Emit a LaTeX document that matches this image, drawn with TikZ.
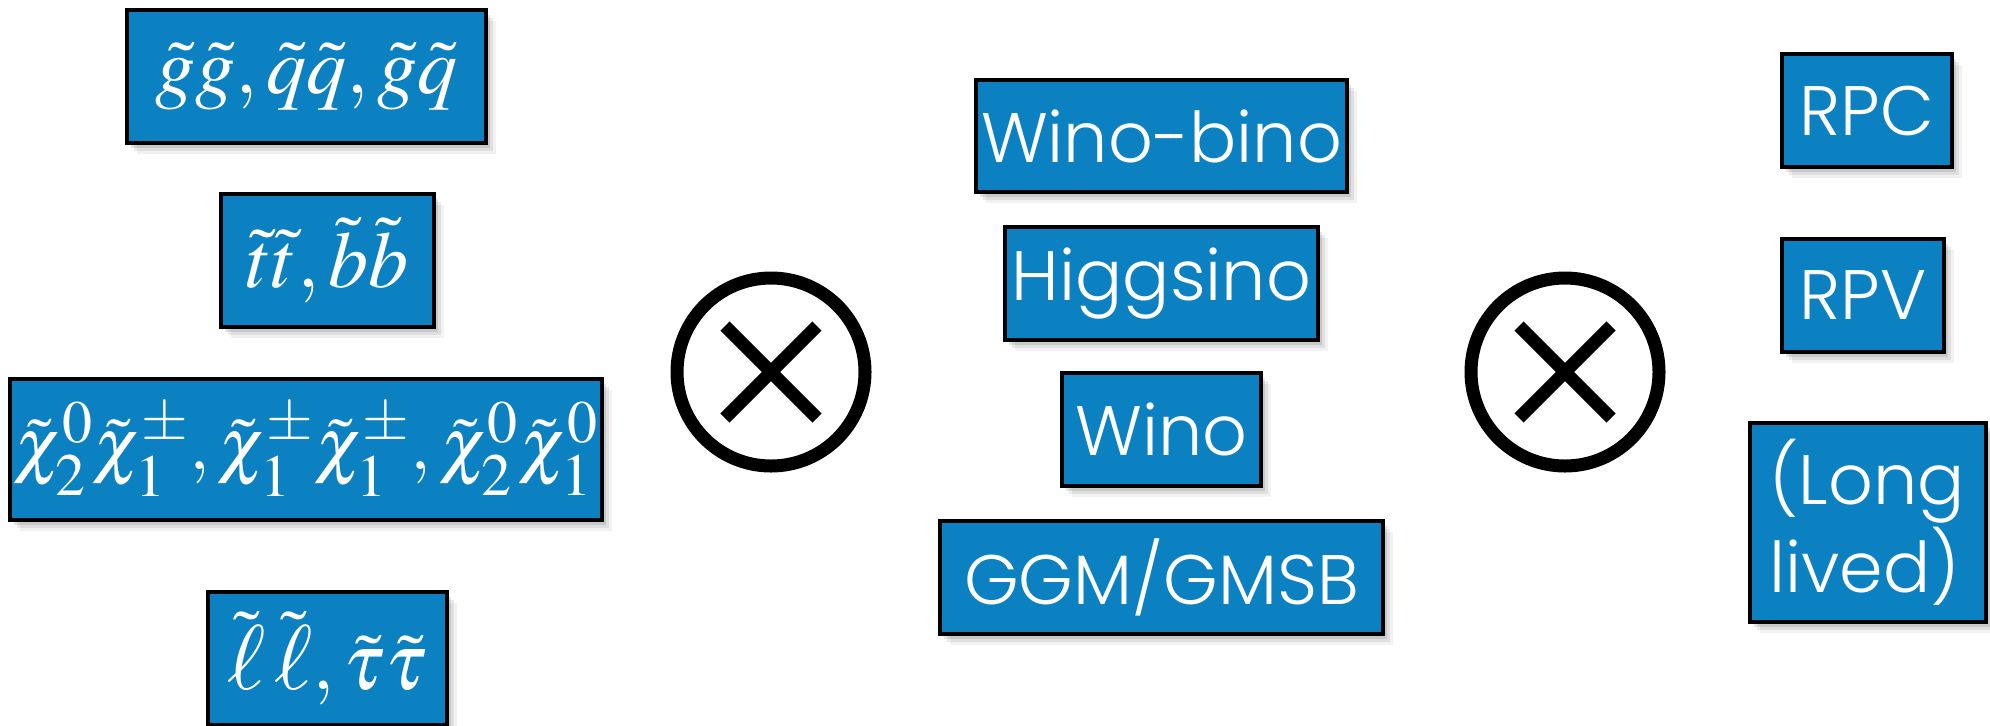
\documentclass[tikz,border=0pt]{standalone}
\usepackage{mathptmx}
\usepackage{graphicx}
\usepackage[no-math]{fontspec}
\newfontfamily\gothic{Poppins Light}
\usetikzlibrary{shadows}
\definecolor{boxblue}{HTML}{0C81C1}
\DeclareMathSizes{40}{40}{31}{25}
\DeclareMathSizes{37}{37}{30}{23}
\newcommand{\bigell}{\tilde{\mbox{\scalebox{1.15}{$\ell$}}}}
\tikzset{
  softshadow/.style={
    drop shadow={shadow xshift=2pt, shadow yshift=-2.5pt, opacity=0.10, fill=black},
    drop shadow={shadow xshift=3.5pt, shadow yshift=-4pt, opacity=0.08, fill=black},
    drop shadow={shadow xshift=5pt, shadow yshift=-5.5pt, opacity=0.05, fill=black}},
  box/.style={draw=black, line width=2pt, fill=boxblue, text=white, inner sep=0pt, softshadow},
  sans/.style={font=\gothic\fontsize{35}{44}\selectfont},
  mth/.style={font=\fontsize{40}{48}\selectfont},
  mthsmall/.style={font=\fontsize{37}{44}\selectfont},
  ring/.style={circle, draw=black, line width=6.5pt, minimum size=94pt, inner sep=0pt},
  cross/.style={line width=6.5pt, line cap=butt}
}
\begin{document}
\begin{tikzpicture}[x=0.5pt, y=-0.5pt]
\useasboundingbox (0,0) rectangle (1990,725);
% left column
\node[box, mth, minimum width=179.5pt, minimum height=66.5pt] (pg) at (306.5,76.5) {\raisebox{-4.5pt}{$\tilde g\tilde g, \tilde q\tilde q, \tilde g\tilde q$}};
\node[box, mth, minimum width=106.5pt, minimum height=66.5pt] (pt) at (327.5,260.5) {\raisebox{-4.5pt}{$\tilde t\tilde t, \tilde b\tilde b$}};
\node[box, mthsmall, minimum width=296pt, minimum height=70.5pt] (pc) at (306,449.5) {\raisebox{-5pt}{$\tilde\chi^0_2\tilde\chi^\pm_1, \tilde\chi^\pm_1\tilde\chi^\pm_1, \tilde\chi^0_2\tilde\chi^0_1$}};
\node[box, mth, minimum width=119.5pt, minimum height=66.5pt] (pl) at (327.5,658.5) {\raisebox{-6pt}{$\bigell\,\bigell, \tilde\tau\tilde\tau$}};
% first otimes
\node[ring] (o1) at (771,372) {};
\draw[cross] ([shift={(-23pt,-23pt)}]o1.center) -- ([shift={(23pt,23pt)}]o1.center);
\draw[cross] ([shift={(-23pt,23pt)}]o1.center) -- ([shift={(23pt,-23pt)}]o1.center);
% middle column
\node[box, sans, minimum width=185.5pt, minimum height=56pt] (wb) at (1161.5,136) {Wino-bino};
\node[box, sans, minimum width=156.5pt, minimum height=56.5pt] (hg) at (1161.5,283.5) {Higgsino};
\node[box, sans, minimum width=99.5pt, minimum height=56.5pt] (wn) at (1161.5,429.5) {Wino};
\node[box, sans, minimum width=221.5pt, minimum height=56.5pt] (gg) at (1161.5,577.5) {GGM/GMSB};
% second otimes
\node[ring] (o2) at (1565,372) {};
\draw[cross] ([shift={(-23pt,-23pt)}]o2.center) -- ([shift={(23pt,23pt)}]o2.center);
\draw[cross] ([shift={(-23pt,23pt)}]o2.center) -- ([shift={(23pt,-23pt)}]o2.center);
% right column
\node[box, sans, minimum width=85pt, minimum height=56.5pt] (rpc) at (1867,110.5) {RPC};
\node[box, sans, minimum width=81pt, minimum height=56.5pt] (rpv) at (1863,295.5) {RPV};
\node[box, sans, text width=98pt, align=left, inner xsep=10pt, minimum height=99.5pt] (ll) at (1867.5,522.5) {(Long\\lived)};
\end{tikzpicture}
\end{document}
